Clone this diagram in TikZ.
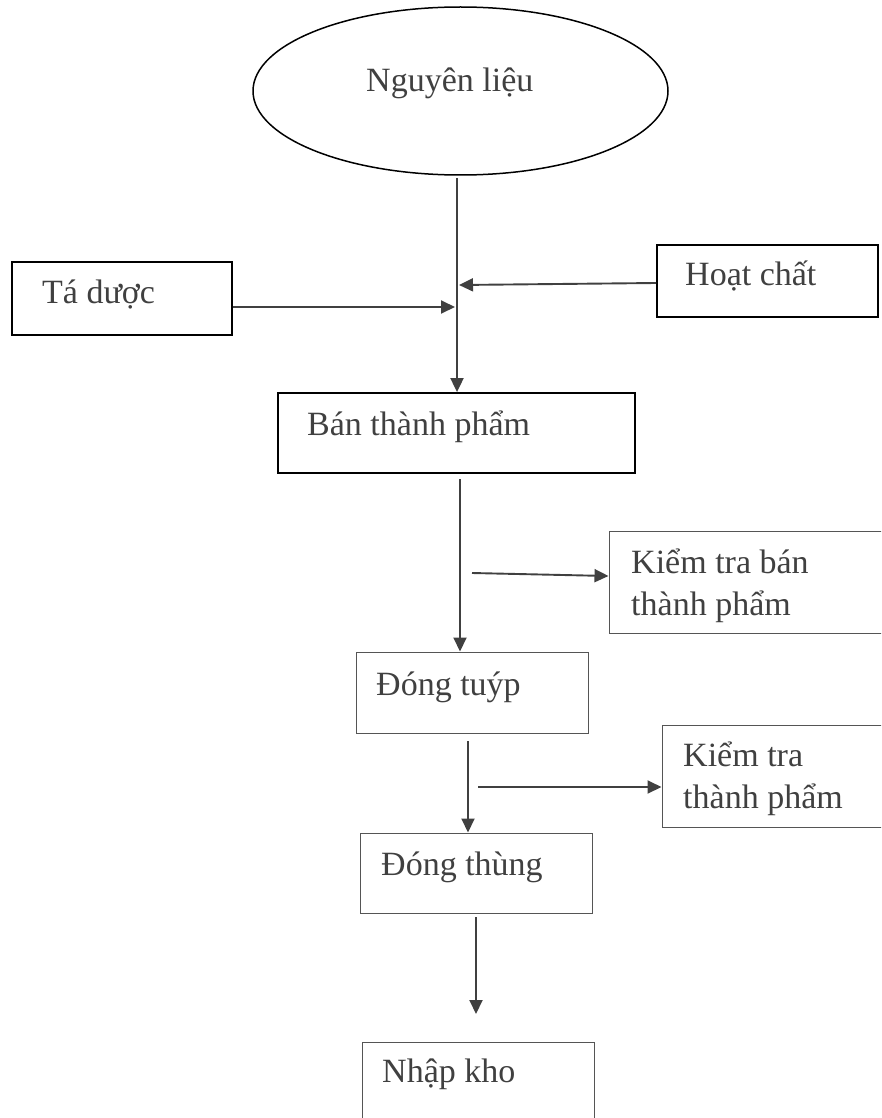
\documentclass[tikz,border=0pt]{standalone}
\usepackage{fontspec}
\setmainfont{Liberation Serif}
\usetikzlibrary{shapes.geometric,arrows.meta}
\definecolor{ink}{HTML}{404040}
\definecolor{edge}{HTML}{555555}
\begin{document}
\begin{tikzpicture}[x=1pt,y=-1pt,
  thickbox/.style={draw=black,line width=1.8pt,rectangle,inner sep=0pt},
  thinbox/.style={draw=edge,line width=1pt,rectangle,inner sep=0pt},
  txt/.style={anchor=base west,inner sep=0pt,text=ink,font=\fontsize{34}{42}\selectfont,align=left},
  flow/.style={draw=ink,line width=1.9pt,-{Triangle[length=14pt,width=13pt]}},
]
\useasboundingbox (0,0) rectangle (881,1118);
\clip (0,0) rectangle (881,1118);

% shapes
\node[ellipse,draw=black,line width=1.5pt,minimum width=415pt,minimum height=168pt,inner sep=0pt] (nl) at (460.5,91) {};
\node[thickbox,minimum width=220pt,minimum height=73pt] (td) at (122,298.5) {};
\node[thickbox,minimum width=221pt,minimum height=72pt] (hc) at (767.5,281) {};
\node[thickbox,minimum width=357pt,minimum height=80pt] (btp) at (456.5,433) {};
\node[thinbox,minimum width=291pt,minimum height=102pt] (ktb) at (754.5,582) {};
\node[thinbox,minimum width=232pt,minimum height=81pt] (dt) at (472,692.5) {};
\node[thinbox,minimum width=238pt,minimum height=102pt] (ktp) at (781,776) {};
\node[thinbox,minimum width=232pt,minimum height=80pt] (dth) at (476,873) {};
\node[thinbox,minimum width=232pt,minimum height=98pt] (nk) at (478,1091) {};

% texts (multi-line nodes: base anchor is the last line)
\node[txt] (tnl) at (366,92) {Nguyên liệu};
\node[txt] (ttd) at (42,303) {Tá dược};
\node[txt] (thc) at (685,285) {Hoạt chất};
\node[txt] (tbtp) at (307,435) {Bán thành phẩm};
\node[txt] (tktb) at (631,615) {Kiểm tra bán\\thành phẩm};
\node[txt] (tdt) at (376,695) {Đóng tuýp};
\node[txt] (tktp) at (683,808) {Kiểm tra\\thành phẩm};
\node[txt] (tdth) at (381,875) {Đóng thùng};
\node[txt] (tnk) at (382,1082) {Nhập kho};

% connector end points
\coordinate (a1) at (457,178);
\coordinate (j1) at (455,307);
\coordinate (h1) at (656,283);
\coordinate (j2) at (459,285);
\coordinate (b1) at (460,479);
\coordinate (c1) at (472,573);
\coordinate (c2) at (609,576);
\coordinate (d1) at (468,741);
\coordinate (e1) at (478,787);
\coordinate (f1) at (476,917);
\coordinate (f2) at (476,1014);

% connectors
\draw[flow] (a1) -- (a1 |- btp.north);
\draw[flow] (td.east |- j1) -- (j1);
\draw[flow] (h1) -- (j2);
\draw[flow] (b1) -- (b1 |- dt.north);
\draw[flow] (c1) -- (ktb.west |- c2);
\draw[flow] (d1) -- (d1 |- dth.north);
\draw[flow] (e1) -- (ktp.west |- e1);
\draw[flow] (f1) -- (f2);
\end{tikzpicture}
\end{document}
